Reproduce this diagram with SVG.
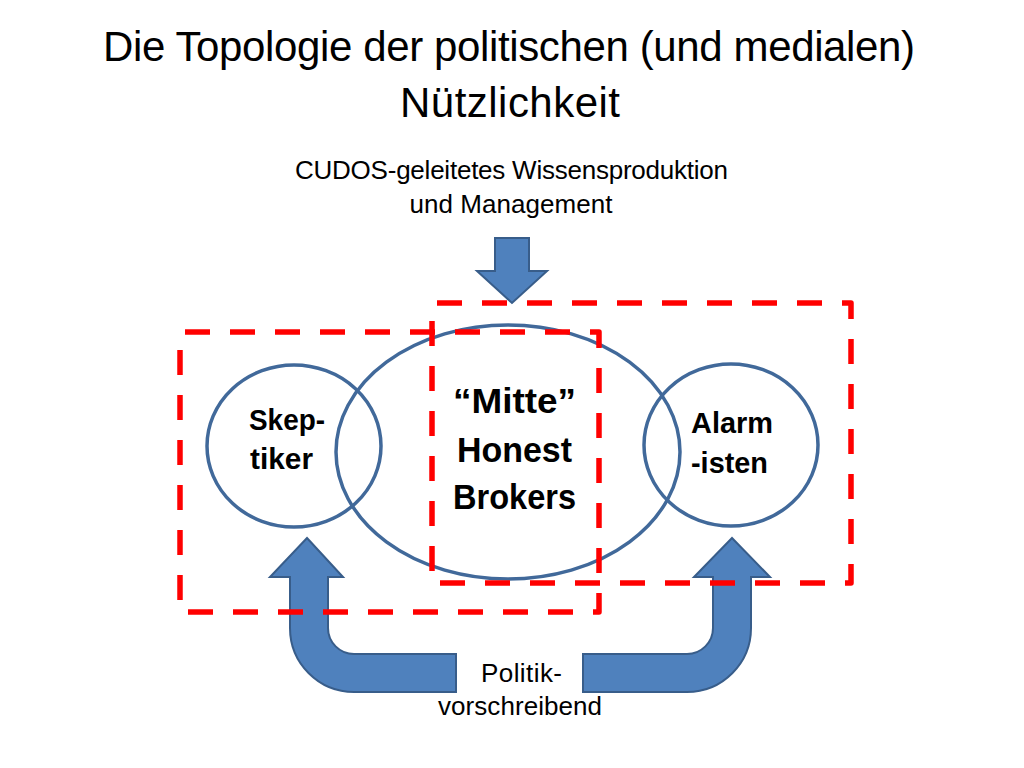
<svg xmlns="http://www.w3.org/2000/svg" width="1024" height="768" viewBox="0 0 1024 768">
<style>
.t{font-family:"Liberation Sans",Arial,sans-serif;fill:#000}
.b{font-family:"Liberation Sans",Arial,sans-serif;font-weight:bold;fill:#000}
.ring{fill:none;stroke:#41699A;stroke-width:3.5}
.arrow{fill:#4F81BD;stroke:#385D8A;stroke-width:2;stroke-linejoin:miter}
.zone{fill:none;stroke:#FF0000;stroke-width:5.5;stroke-dasharray:25 20;stroke-dashoffset:40;stroke-linejoin:round}
</style>
<rect width="1024" height="768" fill="#FFFFFF"/>
<g id="title">
<text class="t" x="509" y="61" font-size="42" text-anchor="middle" textLength="812" lengthAdjust="spacing">Die Topologie der politischen (und medialen)</text>
<text class="t" x="510" y="117" font-size="42" text-anchor="middle" textLength="220" lengthAdjust="spacing">Nützlichkeit</text>
</g>
<g id="cudos">
<text class="t" x="511.5" y="179" font-size="26" text-anchor="middle" textLength="433" lengthAdjust="spacing">CUDOS-geleitetes Wissensproduktion</text>
<text class="t" x="511" y="213" font-size="26" text-anchor="middle" textLength="203" lengthAdjust="spacing">und Management</text>
</g>
<g id="skeptiker">
<ellipse class="ring" cx="294" cy="446" rx="87" ry="81"/>
<text class="b" x="249" y="430" font-size="30" textLength="76" lengthAdjust="spacingAndGlyphs">Skep-</text>
<text class="b" x="250" y="469" font-size="30" textLength="63" lengthAdjust="spacingAndGlyphs">tiker</text>
</g>
<g id="mitte">
<ellipse class="ring" cx="508" cy="452" rx="172" ry="127"/>
<text class="b" x="514.5" y="413" font-size="35" text-anchor="middle" textLength="123" lengthAdjust="spacingAndGlyphs">“Mitte”</text>
<text class="b" x="514.5" y="462" font-size="35" text-anchor="middle" textLength="115" lengthAdjust="spacingAndGlyphs">Honest</text>
<text class="b" x="514.5" y="509" font-size="35" text-anchor="middle" textLength="123" lengthAdjust="spacingAndGlyphs">Brokers</text>
</g>
<g id="alarmisten">
<ellipse class="ring" cx="731" cy="445" rx="87" ry="81"/>
<text class="b" x="691" y="433" font-size="30" textLength="82" lengthAdjust="spacingAndGlyphs">Alarm</text>
<text class="b" x="691" y="473" font-size="30" textLength="77" lengthAdjust="spacingAndGlyphs">-isten</text>
</g>
<g id="politik">
<text class="t" x="521.5" y="682" font-size="26" text-anchor="middle" textLength="81" lengthAdjust="spacing">Politik-</text>
<text class="t" x="520" y="715" font-size="26" text-anchor="middle" textLength="164" lengthAdjust="spacing">vorschreibend</text>
</g>
<g id="connectors">
<polygon class="arrow" points="495,238 529,238 529,271 547,271 512,303 477,271 495,271"/>
<path class="arrow" d="M307 538 L343 577 L328 577 L328 628 A26 26 0 0 0 354 654 L456 654 L456 692 L354 692 A64 64 0 0 1 290 628 L290 577 L270 577 Z"/>
<path class="arrow" d="M732 538 L694 577 L713 577 L713 628 A26 26 0 0 1 687 654 L583 654 L583 692 L687 692 A64 64 0 0 0 751 628 L751 577 L770 577 Z"/>
</g>
<g id="zone-left">
<rect class="zone" x="180" y="332" width="419" height="280"/>
</g>
<g id="zone-right">
<rect class="zone" x="432" y="303" width="419" height="280"/>
</g>
</svg>
